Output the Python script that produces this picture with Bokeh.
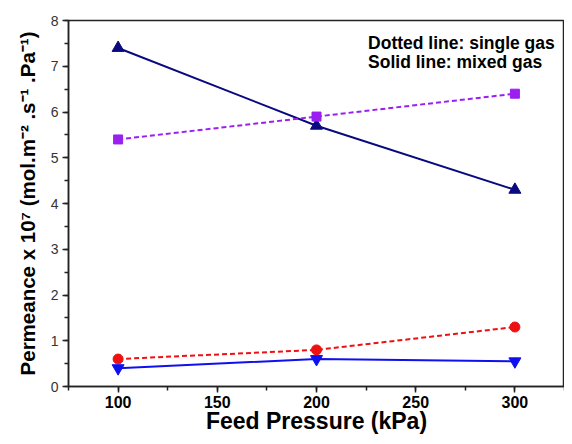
from bokeh.plotting import figure
from bokeh.models import Range1d, SingleIntervalTicker, Label
from bokeh.embed import file_html
from bokeh.resources import INLINE

# Data
pressure = [100, 200, 300]
mixed_a = [7.4, 5.7, 4.3]      # navy triangles, solid
single_a = [5.4, 5.9, 6.4]     # purple squares, dashed
single_b = [0.6, 0.8, 1.3]     # red circles, dashed
mixed_b = [0.4, 0.6, 0.55]     # blue inverted triangles, solid

x_label = "Feed Pressure (kPa)"
y_label = "Permeance x 10\u2077 (mol.m\u207b\u00b2 .s\u207b\u00b9 .Pa\u207b\u00b9)"
note1 = "Dotted line: single gas"
note2 = "Solid line: mixed gas"

FONT = "Liberation Sans"

p = figure(width=564, height=436, output_backend="svg", toolbar_location=None,
           x_range=Range1d(75, 325), y_range=Range1d(0, 8),
           min_border_left=68, min_border_right=0, min_border_top=20, min_border_bottom=46)

p.background_fill_color = "white"
p.border_fill_color = "white"
p.outline_line_color = "#222222"
p.outline_line_width = 1.5
p.xgrid.visible = False
p.ygrid.visible = False

p.xaxis.ticker = SingleIntervalTicker(interval=50, num_minor_ticks=2)
p.yaxis.ticker = SingleIntervalTicker(interval=1, num_minor_ticks=2)

for ax in (p.xaxis[0], p.yaxis[0]):
    ax.axis_line_color = "#222222"
    ax.axis_line_width = 1.5
    ax.major_tick_line_color = "#222222"
    ax.minor_tick_line_color = "#222222"
    ax.major_tick_line_width = 1.5
    ax.minor_tick_line_width = 1.5
    ax.major_tick_out = 6
    ax.major_tick_in = 0
    ax.minor_tick_out = 4
    ax.minor_tick_in = 0

p.xaxis.axis_label = x_label
p.xaxis.axis_label_text_font = FONT
p.xaxis.axis_label_text_font_style = "bold"
p.xaxis.axis_label_text_font_size = "23px"
p.xaxis.axis_label_text_color = "black"
p.xaxis.axis_label_standoff = -3
p.xaxis.major_label_text_font = FONT
p.xaxis.major_label_text_font_style = "bold"
p.xaxis.major_label_text_font_size = "16px"
p.xaxis.major_label_text_color = "black"
p.xaxis.major_label_standoff = 3

p.yaxis.axis_label = y_label
p.yaxis.axis_label_text_font = FONT
p.yaxis.axis_label_text_font_style = "bold"
p.yaxis.axis_label_text_font_size = "20.5px"
p.yaxis.axis_label_text_color = "black"
p.yaxis.axis_label_standoff = 9
p.yaxis.major_label_text_font = FONT
p.yaxis.major_label_text_font_style = "normal"
p.yaxis.major_label_text_font_size = "14px"
p.yaxis.major_label_text_color = "#333333"
p.yaxis.major_label_standoff = 4

# Series
p.line(pressure, mixed_a, line_color="#0a0a80", line_width=2)
p.scatter(pressure, mixed_a, marker="triangle", size=12, fill_color="#0a0a80", line_color="#0a0a80")

p.line(pressure, single_a, line_color="#9b1ff0", line_width=2, line_dash="5 3")
p.scatter(pressure, single_a, marker="square", size=9, fill_color="#9b1ff0", line_color="#9b1ff0")

p.line(pressure, single_b, line_color="#ee1111", line_width=2, line_dash="5 3")
p.scatter(pressure, single_b, marker="circle", size=10, fill_color="#ee1111", line_color="#ee1111")

p.line(pressure, mixed_b, line_color="#1010ee", line_width=2)
p.scatter(pressure, mixed_b, marker="inverted_triangle", size=12, fill_color="#1010ee", line_color="#1010ee")

# Annotations
p.add_layout(Label(x=226, y=7.51, text=note1, text_font=FONT, text_font_style="bold",
                   text_font_size="17.5px", text_color="black", text_baseline="alphabetic"))
p.add_layout(Label(x=226, y=7.10, text=note2, text_font=FONT, text_font_style="bold",
                   text_font_size="17.5px", text_color="black", text_baseline="alphabetic"))

open("out.html", "w").write(file_html(p, INLINE))
